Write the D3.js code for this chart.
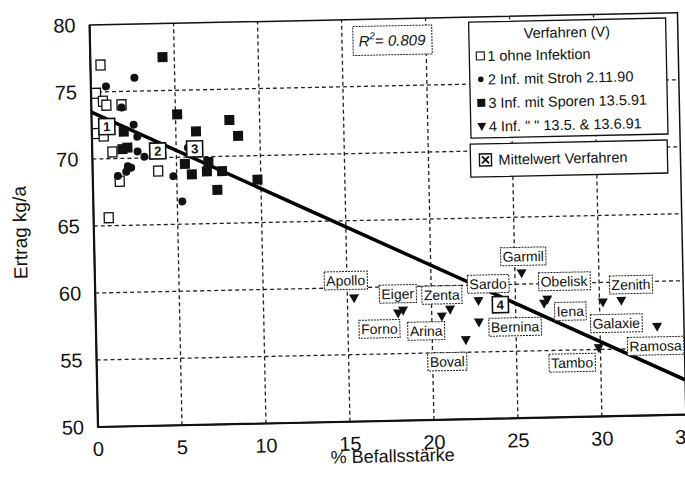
<!DOCTYPE html>
<html>
<head>
<meta charset="utf-8">
<script src="https://cdn.jsdelivr.net/npm/d3@7"></script>
<style>
  body { margin: 0; background: #fff; }
  text { font-family: "Liberation Sans", Arial, sans-serif; fill: #111; }
</style>
</head>
<body>
<div class="chart"></div>
<script>
// Verfahren 1: ohne Infektion (open squares)
var v1X = [0.6, 0.3, 0.7, 0.9, 1.8, 0.3, 0.7, 1.2, 1.6, 3.9, 0.9];
var v1Y = [77.0, 74.9, 74.3, 74.0, 74.0, 71.9, 71.7, 70.5, 68.3, 69.0, 65.6];
// Verfahren 2: Inf. mit Stroh (dots)
var v2X = [2.6, 0.9, 2.5, 1.8, 2.7, 2.7, 3.1, 2.1, 2.0, 2.3, 1.5, 4.8, 5.7, 5.3];
var v2Y = [76.0, 75.4, 72.5, 73.8, 71.6, 70.5, 70.1, 69.4, 69.0, 69.3, 68.7, 68.6, 70.7, 66.7];
// Verfahren 3: Inf. mit Sporen (filled squares)
var v3X = [4.3, 5.1, 8.2, 6.2, 8.7, 1.9, 1.8, 2.1, 5.5, 5.9, 6.9, 6.8, 7.7, 7.4, 9.8];
var v3Y = [77.5, 73.2, 72.7, 71.9, 71.5, 72.0, 70.7, 70.8, 69.5, 68.7, 69.6, 68.9, 68.9, 67.5, 68.2];
// Verfahren 4: Sorten (triangles)
var sorten = ["Apollo", "Eiger", "Forno", "Zenta", "Arina", "Sardo", "Bernina", "Boval",
              "Garmil", "Obelisk", "Iena", "Galaxie", "Zenith", "Ramosa", "Tambo"];
var v4X = [15.4, 18.3, 18.0, 21.1, 20.6, 22.8, 22.8, 22.0, 25.4, 26.9, 26.7, 30.2, 31.3, 33.4, 29.9];
var v4Y = [59.2, 58.2, 58.0, 58.2, 57.7, 58.8, 57.2, 55.9, 60.8, 58.8, 58.5, 58.5, 58.6, 56.6, 55.1];
// Mittelwerte je Verfahren
var meanNr = ["1", "2", "3", "4"];
var meanX = [0.9, 3.9, 6.1, 24.1];
var meanY = [72.4, 70.5, 70.6, 58.5];
// Regressionsgerade
var fitX = [0, 35];
var fitY = [73.5, 52.6];
var r2Text = "0.809";

var xTicks = [0, 5, 10, 15, 20, 25, 30, 35];
var yTicks = [50, 55, 60, 65, 70, 75, 80];
var legendTitle = "Verfahren (V)";
var legendItems = ["1 ohne Infektion", "2 Inf. mit Stroh 2.11.90",
                   "3 Inf. mit Sporen 13.5.91", "4 Inf. \"  \" 13.5. & 13.6.91"];

// label placement (pixel offsets of the name boxes from their triangle)
var labelOffset = {
  Apollo: [-8, -18], Eiger: [-5, -17], Zenta: [-8, -15], Forno: [-19, 15],
  Arina: [-16, 14], Boval: [-19, 21], Sardo: [10, -17], Bernina: [36, 5],
  Garmil: [2, -17], Obelisk: [17, -18], Iena: [26, 8], Zenith: [10, -16],
  Galaxie: [13, 21], Ramosa: [-2, 19], Tambo: [-27, 14]
};

var svgWidth = 685, svgHeight = 491;
var x0 = 98, y0 = 427;

var svg = d3.select(".chart").append("svg")
  .attr("width", svgWidth)
  .attr("height", svgHeight);
svg.append("rect").attr("width", svgWidth).attr("height", svgHeight).attr("fill", "#fff");

// the scanned page is slightly tilted
var chart = svg.append("g").attr("transform", `rotate(-1.2, ${x0}, ${y0})`);

var xScale = d3.scaleLinear().domain([0, 35]).range([x0, x0 + 35 * 16.8]);
var yScale = d3.scaleLinear().domain([50, 80]).range([y0, y0 - 30 * 13.4]);

// grid
chart.selectAll(".vgrid").data(xTicks.slice(1, -1)).enter().append("line")
  .attr("x1", d => xScale(d)).attr("x2", d => xScale(d))
  .attr("y1", yScale(50)).attr("y2", yScale(80))
  .attr("stroke", "#222").attr("stroke-width", 1.3).attr("stroke-dasharray", "4,3");
chart.selectAll(".hgrid").data(yTicks.slice(1, -1)).enter().append("line")
  .attr("x1", xScale(0)).attr("x2", xScale(35))
  .attr("y1", d => yScale(d)).attr("y2", d => yScale(d))
  .attr("stroke", "#222").attr("stroke-width", 1.3).attr("stroke-dasharray", "4,3");

// frame
chart.append("rect")
  .attr("x", xScale(0)).attr("y", yScale(80))
  .attr("width", xScale(35) - xScale(0)).attr("height", yScale(50) - yScale(80))
  .attr("fill", "none").attr("stroke", "#111").attr("stroke-width", 1.5);
chart.append("path")
  .attr("d", `M${xScale(0)},${yScale(80)}V${yScale(50)}H${xScale(35)}`)
  .attr("fill", "none").attr("stroke", "#111").attr("stroke-width", 2.2);

// tick labels
chart.selectAll(".xlab").data(xTicks).enter().append("text")
  .attr("x", d => xScale(d)).attr("y", y0 + 29)
  .attr("text-anchor", "middle").style("font-size", "20px")
  .text(d => d);
chart.selectAll(".ylab").data(yTicks).enter().append("text")
  .attr("x", x0 - 14).attr("y", d => yScale(d)).attr("dy", "0.35em")
  .attr("text-anchor", "end").style("font-size", "20px")
  .text(d => d);

// axis titles
chart.append("text")
  .attr("transform", "translate(24,231) rotate(-90)")
  .attr("text-anchor", "middle").attr("dy", "0.35em")
  .style("font-size", "19px").text("Ertrag kg/a");
chart.append("text")
  .attr("x", 392).attr("y", 462).attr("dy", "0.35em")
  .attr("text-anchor", "middle").style("font-size", "18px")
  .text("% Befallsstärke");

// regression line
chart.append("line")
  .attr("x1", xScale(fitX[0])).attr("y1", yScale(fitY[0]))
  .attr("x2", xScale(fitX[1])).attr("y2", yScale(fitY[1]))
  .attr("stroke", "#000").attr("stroke-width", 3.5);

// marker helpers
function openSquare(sel, cx, cy) {
  sel.append("rect").attr("x", cx - 4.5).attr("y", cy - 5).attr("width", 9).attr("height", 10)
    .attr("fill", "#fff").attr("stroke", "#111").attr("stroke-width", 1.3);
}
function dot(sel, cx, cy, r) {
  sel.append("circle").attr("cx", cx).attr("cy", cy).attr("r", r).attr("fill", "#111");
}
function fullSquare(sel, cx, cy, s) {
  sel.append("rect").attr("x", cx - s / 2).attr("y", cy - s / 2).attr("width", s).attr("height", s)
    .attr("fill", "#111");
}
function triangle(sel, cx, cy, s) {
  sel.append("path")
    .attr("d", `M${cx - s / 2},${cy - s * 0.4}L${cx + s / 2},${cy - s * 0.4}L${cx},${cy + s * 0.5}Z`)
    .attr("fill", "#111");
}

var pts = chart.append("g");
v1X.forEach((d, i) => openSquare(pts, xScale(d), yScale(v1Y[i])));
v2X.forEach((d, i) => dot(pts, xScale(d), yScale(v2Y[i]), 4));
v3X.forEach((d, i) => fullSquare(pts, xScale(d), yScale(v3Y[i]), 10));
v4X.forEach((d, i) => triangle(pts, xScale(d), yScale(v4Y[i]), 10));

// name boxes of the varieties
var names = chart.append("g");
sorten.forEach((name, i) => {
  var off = labelOffset[name];
  var cx = xScale(v4X[i]) + off[0], cy = yScale(v4Y[i]) + off[1];
  var box = names.append("rect").attr("fill", "#fff").attr("stroke", "#222")
    .attr("stroke-width", 1).attr("stroke-dasharray", "2,1");
  var t = names.append("text").attr("x", cx).attr("y", cy).attr("dy", "0.36em")
    .attr("text-anchor", "middle").style("font-size", "14px").text(name);
  var bb = t.node().getBBox();
  box.attr("x", bb.x - 2).attr("y", cy - 9).attr("width", bb.width + 4).attr("height", 18);
});

// means
meanNr.forEach((nr, i) => {
  var cx = xScale(meanX[i]), cy = yScale(meanY[i]);
  chart.append("rect").attr("x", cx - 8).attr("y", cy - 8).attr("width", 16).attr("height", 16)
    .attr("fill", "#fff").attr("stroke", "#111").attr("stroke-width", 1.6);
  chart.append("text").attr("x", cx).attr("y", cy).attr("dy", "0.36em")
    .attr("text-anchor", "middle").style("font-size", "13px").style("font-weight", "bold")
    .text(nr);
});

// R^2 box
chart.append("rect").attr("x", 361).attr("y", 32).attr("width", 79).attr("height", 29)
  .attr("fill", "#fff").attr("stroke", "#222").attr("stroke-width", 1).attr("stroke-dasharray", "2,1");
var r2 = chart.append("text").attr("x", 400).attr("y", 52).attr("text-anchor", "middle")
  .style("font-size", "15px").style("font-style", "italic");
r2.append("tspan").text("R");
r2.append("tspan").attr("dy", -7).style("font-size", "10px").text("2");
r2.append("tspan").attr("dy", 7).text("= " + r2Text);

// legend
var leg = chart.append("g");
leg.append("rect").attr("x", 477).attr("y", 30).attr("width", 197).attr("height", 116)
  .attr("fill", "#fff").attr("stroke", "#111").attr("stroke-width", 1.3);
leg.append("text").attr("x", 575).attr("y", 42).attr("dy", "0.36em")
  .attr("text-anchor", "middle").style("font-size", "14.5px").text(legendTitle);
legendItems.forEach((item, i) => {
  var cy = 64 + i * 23.5, mx = 488;
  if (i === 0) leg.append("rect").attr("x", mx - 4).attr("y", cy - 4).attr("width", 8).attr("height", 8)
    .attr("fill", "#fff").attr("stroke", "#111").attr("stroke-width", 1.1);
  if (i === 1) dot(leg, mx, cy, 2.8);
  if (i === 2) fullSquare(leg, mx, cy, 8);
  if (i === 3) triangle(leg, mx, cy, 9);
  leg.append("text").attr("x", 495).attr("y", cy).attr("dy", "0.36em")
    .style("font-size", "14.5px").text(item);
});

leg.append("rect").attr("x", 476).attr("y", 152).attr("width", 197).attr("height", 33)
  .attr("fill", "#fff").attr("stroke", "#111").attr("stroke-width", 1.3);
leg.append("rect").attr("x", 485).attr("y", 162).attr("width", 12).attr("height", 12)
  .attr("fill", "#fff").attr("stroke", "#111").attr("stroke-width", 1.4);
leg.append("path").attr("d", "M487.5,164.5L494.5,171.5M494.5,164.5L487.5,171.5")
  .attr("stroke", "#111").attr("stroke-width", 1.8);
leg.append("text").attr("x", 504).attr("y", 168).attr("dy", "0.36em")
  .style("font-size", "14.5px").text("Mittelwert Verfahren");
</script>
</body>
</html>
